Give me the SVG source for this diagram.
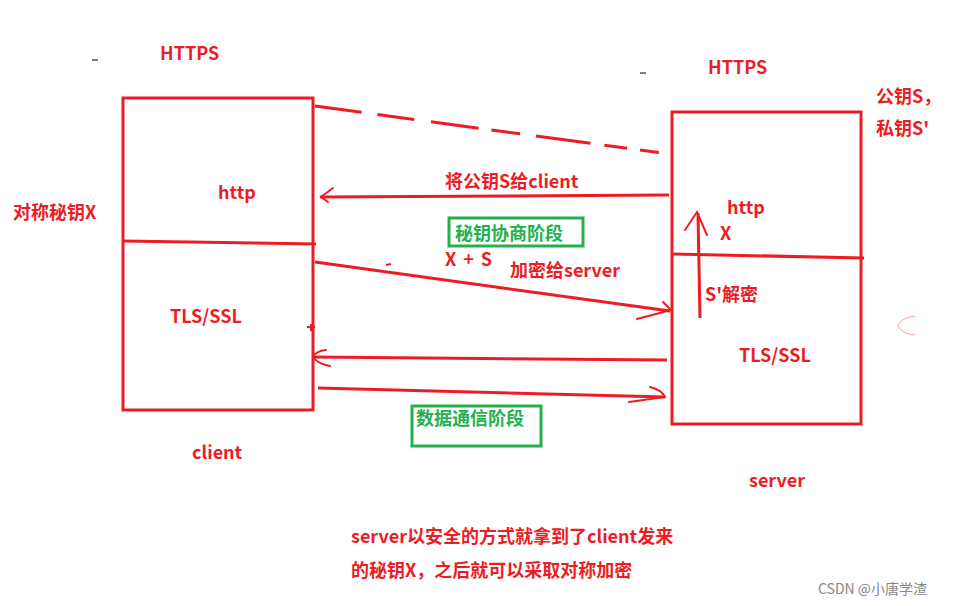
<svg xmlns="http://www.w3.org/2000/svg" width="968" height="606" viewBox="0 0 968 606">
<style>
.ln{fill:none;stroke:#ED1C24;stroke-width:3;stroke-linecap:butt;stroke-linejoin:miter}
.ah{fill:none;stroke:#ED1C24;stroke-width:2;stroke-linecap:round}
.t{font-family:"Microsoft YaHei","Noto Sans CJK SC","Noto Sans",sans-serif;font-weight:bold;font-size:18px;fill:#ED1C24}
.g{fill:#22B14C}
.gb{fill:none;stroke:#22B14C;stroke-width:3}
</style>
<rect width="968" height="606" fill="#fff"/>
<g id="client">
<rect class="ln" x="123" y="98" width="190" height="312"/>
<polyline class="ln" points="123,241 316,244"/>
<text class="t" x="218" y="199">http</text>
<text class="t" x="170" y="323">TLS/SSL</text>
<text class="t" x="192" y="459">client</text>
<text class="t" x="160" y="60">HTTPS</text>
<text class="t" x="13" y="219">对称秘钥X</text>
</g>
<g id="server">
<rect class="ln" x="672" y="112" width="189" height="312"/>
<polyline class="ln" points="672,254 864,258"/>
<text class="t" x="727" y="214">http</text>
<text class="t" x="720" y="240">X</text>
<text class="t" x="705" y="301">S'解密</text>
<text class="t" x="739" y="362">TLS/SSL</text>
<text class="t" x="749" y="487">server</text>
<text class="t" x="708" y="74">HTTPS</text>
<text class="t" x="876" y="103">公钥S，</text>
<text class="t" x="876" y="135">私钥S'</text>
</g>
<g id="phase1">
<rect class="gb" x="449" y="218" width="134" height="28"/>
<text class="t g" x="455" y="240">秘钥协商阶段</text>
</g>
<g id="phase2">
<rect class="gb" x="412" y="406" width="129" height="40"/>
<text class="t g" x="416" y="425">数据通信阶段</text>
</g>
<g id="note">
<text class="t" x="351" y="543">server以安全的方式就拿到了client发来</text>
<text class="t" x="351" y="577">的秘钥X，之后就可以采取对称加密</text>
</g>
<g id="connectors">
<line class="ln" x1="315" y1="106" x2="662" y2="153" stroke-dasharray="47,16,37,17,48,13,29,16,55,14,23,13,19"/>
<line class="ln" x1="669" y1="195" x2="320" y2="197"/>
<polyline class="ah" points="333,188 321,197 328,202"/>
<text class="t" x="445" y="188">将公钥S给client</text>
<line class="ln" x1="315" y1="262" x2="670" y2="311"/>
<polyline class="ah" points="663,302 671,310 637,319"/>
<text class="t" x="445" y="266" xml:space="preserve" textLength="47" lengthAdjust="spacing">X + S</text>
<text class="t" x="510" y="277">加密给server</text>
<line class="ln" x1="700" y1="318" x2="698" y2="213"/>
<polyline class="ah" points="685,230 697,212 707,235"/>
<line class="ln" x1="667" y1="360" x2="313" y2="357"/>
<path class="ah" d="M326,350 Q316,351 313,357 Q318,364 330,366"/>
<line class="ln" x1="318" y1="388" x2="665" y2="397"/>
<path class="ah" d="M650,387 Q662,390 665,397 L629,402"/>
</g>
<g id="marks">
<line x1="92" y1="60" x2="98" y2="60" stroke="#555" stroke-width="1.5"/>
<line x1="640" y1="73" x2="646" y2="73" stroke="#555" stroke-width="1.5"/>
<path d="M386,265 L391,264" stroke="#ED1C24" stroke-width="2"/>
<path d="M307,327 L315,327 M311,324 L311,331" stroke="#ED1C24" stroke-width="2"/>
<path d="M915,316 Q900,318 898,326 Q902,334 915,335" fill="none" stroke="#F4A0A4" stroke-width="1"/>
<text x="818" y="594" font-family="Microsoft YaHei,'Noto Sans CJK SC',sans-serif" font-size="14" fill="#888">CSDN @小唐学渣</text>
</g>
</svg>
